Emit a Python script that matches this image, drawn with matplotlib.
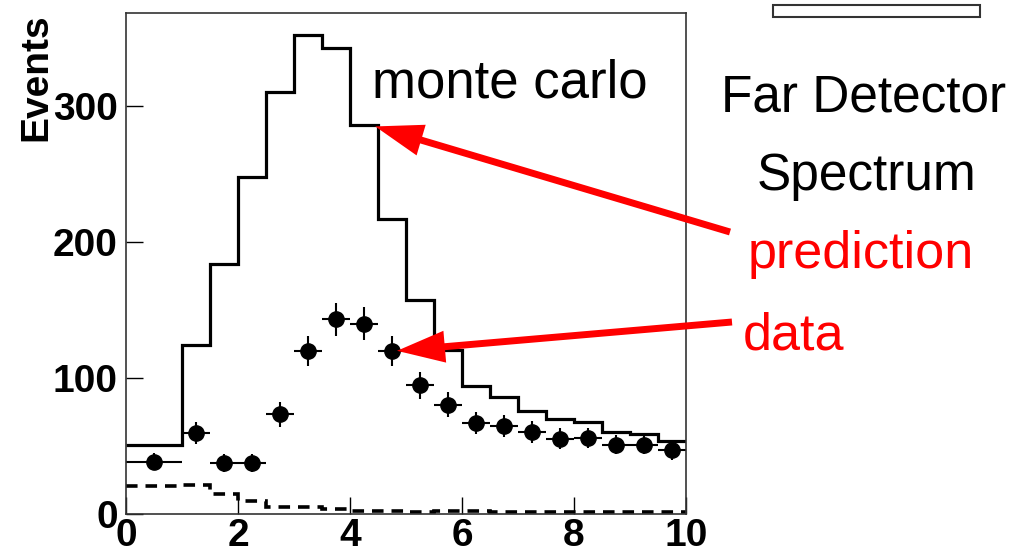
import matplotlib
matplotlib.use("Agg")
import matplotlib.pyplot as plt
from matplotlib import font_manager
from matplotlib.patches import Rectangle
import numpy as np

# energy bins (first bin is 1 wide, then 0.5)
bin_edges = [0, 1, 1.5, 2, 2.5, 3, 3.5, 4, 4.5, 5, 5.5, 6, 6.5, 7, 7.5, 8, 8.5, 9, 9.5, 10]
monte_carlo = [51, 124, 184, 247.5, 310, 352.5, 343, 286, 217, 157.5, 120.5,
               94, 86, 76, 70, 67.5, 60, 59, 54]
data_events = [38.6, 59.8, 37.4, 37.4, 73.2, 119.6, 143.2, 140, 119.8, 94.6, 80.4,
               66.8, 64.6, 60.2, 55.4, 55.8, 50.9, 50.9, 46.7]
data_errors = [6.5, 8, 6.5, 6.5, 9, 11, 12, 12, 11, 10, 9, 8, 8, 8, 7.5, 7.5, 7, 7, 7]
background = [20.5, 21.5, 15, 9.5, 5.5, 5.5, 4, 2.5, 2, 1.7, 2.5, 2.5, 1.5,
              1.5, 1.5, 1.2, 1.5, 1.5, 1.5]

names = {f.name for f in font_manager.fontManager.ttflist}
if "Liberation Sans Narrow" in names:
    txt_font, scale = "Liberation Sans Narrow", 1.22
else:
    txt_font, scale = "Liberation Sans", 1.0

plt.rcParams["font.family"] = ["Liberation Sans", "DejaVu Sans"]

W, H = 1030, 554
fig = plt.figure(figsize=(W / 100, H / 100), dpi=100)
ax = fig.add_axes([126 / W, 1 - 514 / H, 560 / W, 501 / H])

edges = np.array(bin_edges)
centers = (edges[:-1] + edges[1:]) / 2
half = (edges[1:] - edges[:-1]) / 2

ax.stairs(monte_carlo, edges, baseline=None, color="black", lw=2.3)
ax.stairs(background, edges, baseline=None, color="black", lw=2.6,
          linestyle=(0, (3.2, 2.2)))
ax.errorbar(centers, data_events, yerr=data_errors, xerr=half, fmt="o",
            color="black", ms=11, elinewidth=1.5, capsize=0)

ax.set_xlim(0, 10)
ax.set_ylim(0, 368.4)
ax.set_xticks([0, 2, 4, 6, 8, 10])
ax.set_yticks([0, 100, 200, 300])
ax.tick_params(direction="in", length=12.5, width=1.0, labelsize=28, pad=6)
ax.tick_params(axis="x", pad=3)
for lab in ax.get_xticklabels() + ax.get_yticklabels():
    lab.set_fontweight("bold")
for sp in ax.spines.values():
    sp.set_linewidth(1.2)
    sp.set_color("#333333")

ax.set_ylabel("Events", fontsize=28, fontweight="bold", loc="top")
ax.yaxis.set_label_coords(-0.128, 1.0)

# text labels
fig.text(372 / W, 1 - 97 / H, "monte carlo", family=txt_font, fontsize=38 * scale,
         ha="left", va="baseline")
fig.text(864 / W, 1 - 112 / H, "Far Detector", family=txt_font, fontsize=37 * scale,
         ha="center", va="baseline")
fig.text(867 / W, 1 - 190 / H, "Spectrum", family=txt_font, fontsize=37 * scale,
         ha="center", va="baseline")
fig.text(748 / W, 1 - 268 / H, "prediction", family=txt_font, fontsize=37.5 * scale,
         ha="left", va="baseline", color="red")
fig.text(743 / W, 1 - 350 / H, "data", family=txt_font, fontsize=37.5 * scale,
         ha="left", va="baseline", color="red")

arrow = dict(arrowstyle="simple,head_length=3.45,head_width=2.3,tail_width=0.5",
             mutation_scale=10, facecolor="red", edgecolor="none",
             shrinkA=0, shrinkB=0)
ax.annotate("", xy=(4.45, 285), xycoords="data",
            xytext=(730, H - 232), textcoords="figure pixels",
            arrowprops=arrow, annotation_clip=False)
ax.annotate("", xy=(4.84, 120), xycoords="data",
            xytext=(732, H - 322), textcoords="figure pixels",
            arrowprops=arrow, annotation_clip=False)

# empty box top right
fig.patches.append(Rectangle((773 / W, 1 - 17 / H), 207 / W, 12 / H,
                             transform=fig.transFigure, fill=False,
                             edgecolor="#333333", lw=1.5))

fig.savefig("out.png", dpi=100)
